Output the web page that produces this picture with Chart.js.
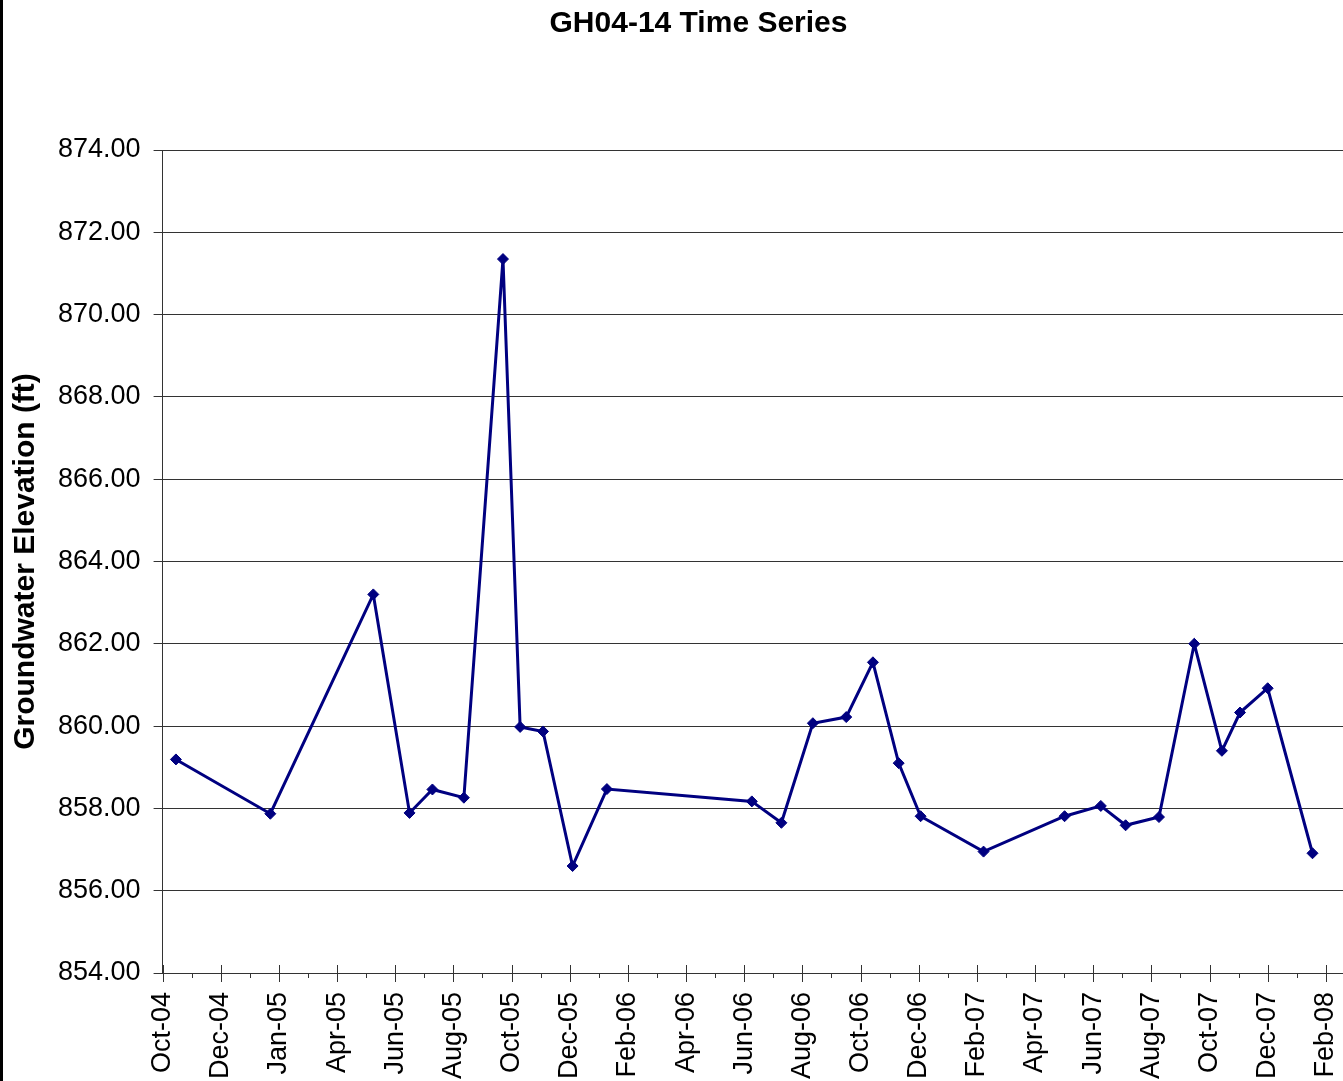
<!DOCTYPE html>
<html>
<head>
<meta charset="utf-8">
<title>GH04-14 Time Series</title>
<script src="https://cdn.jsdelivr.net/npm/chart.js@4.4.1/dist/chart.umd.min.js"></script>
<style>
  html, body { margin: 0; padding: 0; background: #fff; }
  #wrap { width: 1343px; height: 1081px; }
</style>
</head>
<body>
<div id="wrap"><canvas id="chart" width="1343" height="1081"></canvas></div>
<script>
// sample dates and groundwater elevations (ft)
const sampleDates = [
  '2004-10-15', '2005-01-22', '2005-05-10', '2005-06-17', '2005-07-11',
  '2005-08-13', '2005-09-23', '2005-10-11', '2005-11-04', '2005-12-05',
  '2006-01-10', '2006-06-11', '2006-07-12', '2006-08-14', '2006-09-18',
  '2006-10-16', '2006-11-12', '2006-12-05', '2007-02-09', '2007-05-05',
  '2007-06-12', '2007-07-08', '2007-08-12', '2007-09-18', '2007-10-17',
  '2007-11-05', '2007-12-04', '2008-01-20'
];
const elevations = [
  859.19, 857.87, 863.20, 857.89, 858.46,
  858.26, 871.35, 859.98, 859.87, 856.60,
  858.47, 858.17, 857.65, 860.07, 860.22,
  861.55, 859.10, 857.81, 856.95, 857.81,
  858.06, 857.59, 857.79, 862.00, 859.40,
  860.33, 860.92, 856.91
];
// x axis labels, one every 61 days from 1 Oct 2004 (excel style)
const xTickLabels = [
  'Oct-04', 'Dec-04', 'Jan-05', 'Apr-05', 'Jun-05', 'Aug-05', 'Oct-05',
  'Dec-05', 'Feb-06', 'Apr-06', 'Jun-06', 'Aug-06', 'Oct-06', 'Dec-06',
  'Feb-07', 'Apr-07', 'Jun-07', 'Aug-07', 'Oct-07', 'Dec-07', 'Feb-08'
];
const axisStart = '2004-10-01';
const majorStep = 61;

const DAY = 86400000;
const t0 = Date.parse(axisStart);
const points = sampleDates.map((d, i) => ({ x: (Date.parse(d) - t0) / DAY, y: elevations[i] }));

const FONT = 'Arial, "Liberation Sans", sans-serif';

// white background + left frame line
const frame = {
  id: 'frame',
  afterLayout(chart) {
    // title sits a bit right of the canvas centre in the original
    chart.titleBlock.left = 54;
  },
  beforeDraw(chart) {
    const ctx = chart.ctx;
    ctx.save();
    ctx.fillStyle = '#fff';
    ctx.fillRect(0, 0, chart.width, chart.height);
    ctx.fillStyle = '#000';
    ctx.fillRect(0, 0, 3, chart.height);
    ctx.restore();
  }
};

// major ticks cross the axis, minor ones hang below it
const tickMarks = {
  id: 'tickMarks',
  afterDraw(chart) {
    const sx = chart.scales.x;
    const ctx = chart.ctx;
    const y0 = sx.top;
    ctx.save();
    ctx.strokeStyle = '#333';
    ctx.lineWidth = 1;
    sx.ticks.forEach(t => {
      const px = Math.round(sx.getPixelForValue(t.value)) + 0.5;
      const major = t.value % majorStep === 0;
      ctx.beginPath();
      ctx.moveTo(px, major ? y0 - 8 : y0);
      ctx.lineTo(px, y0 + (major ? 9 : 5));
      ctx.stroke();
    });
    ctx.restore();
  }
};

new Chart(document.getElementById('chart'), {
  type: 'line',
  data: {
    datasets: [{
      label: 'GH04-14',
      data: points,
      borderColor: '#000080',
      backgroundColor: '#000080',
      borderWidth: 3,
      pointStyle: 'rectRot',
      pointRadius: 5.5,
      pointBorderWidth: 1,
      pointBackgroundColor: '#000080',
      pointBorderColor: '#000080',
      tension: 0,
      clip: false
    }]
  },
  options: {
    responsive: false,
    animation: false,
    layout: { padding: 0, autoPadding: false },
    plugins: {
      legend: { display: false },
      tooltip: { enabled: false },
      title: {
        display: true,
        text: 'GH04-14 Time Series',
        color: '#000',
        font: { family: FONT, size: 30, weight: 'bold' },
        padding: { top: 6, bottom: 108 }
      }
    },
    scales: {
      x: {
        type: 'linear',
        min: 0,
        max: 1238,
        grid: { drawOnChartArea: false, drawTicks: true, tickLength: 9, tickColor: 'rgba(0,0,0,0)' },
        border: { color: '#333', width: 1 },
        ticks: {
          stepSize: majorStep / 2,
          includeBounds: false,
          autoSkip: false,
          minRotation: 90,
          maxRotation: 90,
          padding: 10,
          color: '#000',
          font: { family: FONT, size: 27 },
          callback: v => (v % majorStep === 0 ? xTickLabels[Math.round(v / majorStep)] : '')
        },
        afterFit: s => {
          s.paddingLeft = 0;
          s.paddingRight = 0;
          s.height = 108;
        }
      },
      y: {
        min: 854,
        max: 874,
        grid: { color: '#333', lineWidth: 1, tickLength: 9, tickColor: '#333' },
        border: { color: '#333', width: 1 },
        ticks: {
          stepSize: 2,
          padding: 13,
          color: '#000',
          font: { family: FONT, size: 27 },
          callback: v => v.toFixed(2)
        },
        title: {
          display: true,
          text: 'Groundwater Elevation (ft)',
          color: '#000',
          font: { family: FONT, size: 30, weight: 'bold' },
          padding: { top: 8, bottom: 1 }
        },
        afterFit: s => {
          s.paddingTop = 0;
          s.paddingBottom = 0;
        }
      }
    }
  },
  plugins: [frame, tickMarks]
});
</script>
</body>
</html>
